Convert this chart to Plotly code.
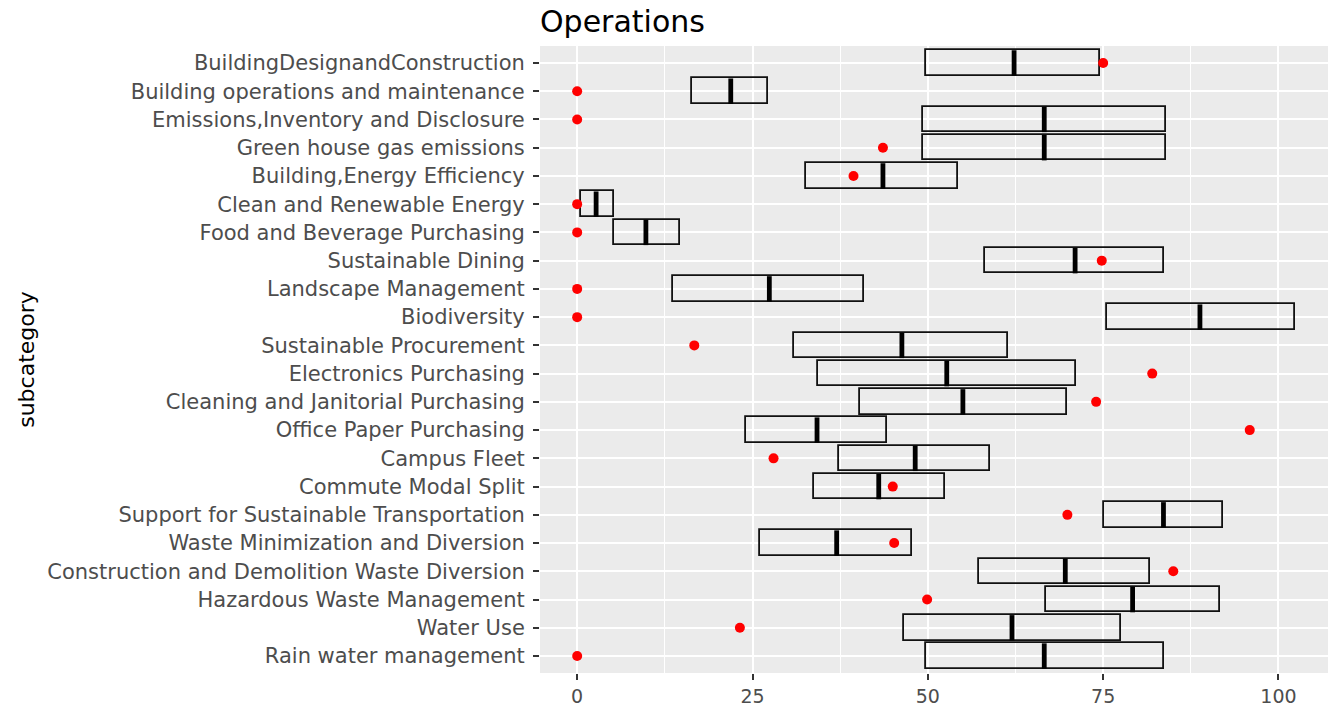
import plotly.graph_objects as go

categories = ["BuildingDesignandConstruction", "Building operations and maintenance",
              "Emissions,Inventory and Disclosure", "Green house gas emissions",
              "Building,Energy Efficiency", "Clean and Renewable Energy",
              "Food and Beverage Purchasing", "Sustainable Dining", "Landscape Management",
              "Biodiversity", "Sustainable Procurement", "Electronics Purchasing",
              "Cleaning and Janitorial Purchasing", "Office Paper Purchasing", "Campus Fleet",
              "Commute Modal Split", "Support for Sustainable Transportation",
              "Waste Minimization and Diversion", "Construction and Demolition Waste Diversion",
              "Hazardous Waste Management", "Water Use", "Rain water management"]
lower = [49.8, 16.4, 49.3, 49.3, 32.6, 0.5, 5.2, 58.1, 13.7, 75.6, 30.9, 34.3, 40.3, 24.1,
         37.3, 33.7, 75.1, 26.0, 57.3, 66.8, 46.6, 49.7]
median = [62.3, 21.9, 66.6, 66.6, 43.6, 2.7, 9.8, 71.0, 27.4, 88.8, 46.3, 52.7, 55.0, 34.2,
          48.2, 43.0, 83.6, 37.0, 69.6, 79.2, 62.0, 66.6]
upper = [74.5, 27.2, 83.9, 83.9, 54.3, 5.2, 14.6, 83.7, 40.9, 102.3, 61.5, 71.1, 69.9, 44.2,
         58.9, 52.4, 92.1, 47.7, 81.7, 91.7, 77.6, 83.7]
points = [75.0, 0, 0, 43.6, 39.4, 0, 0, 74.8, 0, 0, 16.7, 82.0, 74.0, 95.9, 28.0, 45.0,
          69.9, 45.2, 85.0, 49.9, 23.2, 0]
x_ticks = [0, 25, 50, 75, 100]

FONT = "DejaVu Sans"
pos = list(range(1, len(categories) + 1))
half = 0.45

fig = go.Figure()
fig.add_trace(go.Bar(
    orientation="h", y=pos, base=lower,
    x=[u - l for u, l in zip(upper, lower)],
    width=2 * half,
    marker=dict(color="rgba(0,0,0,0)", line=dict(color="#111111", width=1.8)),
    showlegend=False, hoverinfo="skip"))

mx, my = [], []
for p, m in zip(pos, median):
    mx += [m, m, None]
    my += [p - half, p + half, None]
fig.add_trace(go.Scatter(x=mx, y=my, mode="lines",
                         line=dict(color="black", width=4.8), showlegend=False,
                         hoverinfo="skip"))

fig.add_trace(go.Scatter(x=points, y=pos, mode="markers",
                         marker=dict(color="red", size=10), showlegend=False))

fig.update_layout(
    width=1328, height=706,
    margin=dict(l=540, r=0, t=46, b=33, autoexpand=False),
    paper_bgcolor="white", plot_bgcolor="#EBEBEB",
    bargap=0, barmode="overlay",
    font=dict(family=FONT, color="#4D4D4D"),
    title=dict(text="Operations", x=540 / 1328, xanchor="left", xref="container",
               y=1 - 21 / 706, yanchor="middle", yref="container",
               font=dict(family=FONT, size=30, color="black")),
    xaxis=dict(range=[-5.3, 107.06], tickvals=x_ticks, ticktext=[str(v) for v in x_ticks],
               showgrid=True, gridcolor="white", gridwidth=2,
               minor=dict(dtick=12.5, tick0=0, showgrid=True, gridcolor="white", gridwidth=1),
               zeroline=False, ticks="outside", ticklen=6, tickwidth=1.5, tickcolor="#333333",
               tickfont=dict(family=FONT, size=19, color="#4D4D4D"), showline=False,
               ticklabelstandoff=0),
    yaxis=dict(range=[22.6, 0.4], tickvals=pos, ticktext=categories,
               showgrid=True, gridcolor="white", gridwidth=2, zeroline=False,
               ticks="outside", ticklen=6, tickwidth=1.5, tickcolor="#333333",
               tickfont=dict(family=FONT, size=21, color="#4D4D4D"),
               ticklabelstandoff=4,
               title=dict(text="subcategory", standoff=6,
                          font=dict(family=FONT, size=22, color="black"))),
)

fig.write_html("out.html", config={"displayModeBar": False},
               post_script="document.body.style.margin='0';document.body.style.overflow='hidden';")
